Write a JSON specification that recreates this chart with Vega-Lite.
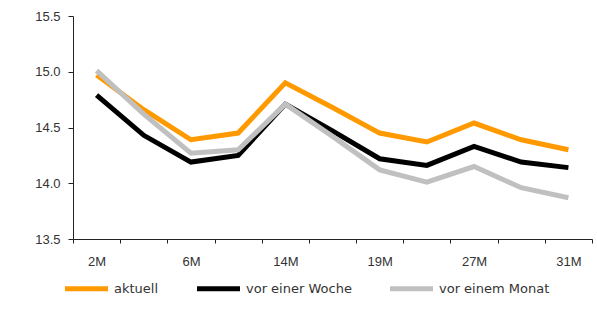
{
  "$schema": "https://vega.github.io/schema/vega-lite/v6.json",
  "width": 519,
  "height": 223,
  "autosize": {"type": "none"},
  "padding": {"left": 73, "top": 16, "right": 5, "bottom": 70},
  "config": {
    "font": "Liberation Sans",
    "view": {"stroke": null},
    "axis": {"labelFont": "Liberation Sans", "labelFontSize": 13, "labelColor": "#333333", "domainColor": "#222222", "tickColor": "#222222", "grid": false, "title": null}
  },
  "data": {
    "values": [
      {"tenor": "2M", "series": "aktuell", "value": 14.97},
      {"tenor": "4M", "series": "aktuell", "value": 14.66},
      {"tenor": "6M", "series": "aktuell", "value": 14.39},
      {"tenor": "10M", "series": "aktuell", "value": 14.45},
      {"tenor": "14M", "series": "aktuell", "value": 14.90},
      {"tenor": "16M", "series": "aktuell", "value": 14.68},
      {"tenor": "19M", "series": "aktuell", "value": 14.45},
      {"tenor": "23M", "series": "aktuell", "value": 14.37},
      {"tenor": "27M", "series": "aktuell", "value": 14.54},
      {"tenor": "29M", "series": "aktuell", "value": 14.39},
      {"tenor": "31M", "series": "aktuell", "value": 14.30},
      {"tenor": "2M", "series": "vor einer Woche", "value": 14.79},
      {"tenor": "4M", "series": "vor einer Woche", "value": 14.43},
      {"tenor": "6M", "series": "vor einer Woche", "value": 14.19},
      {"tenor": "10M", "series": "vor einer Woche", "value": 14.25},
      {"tenor": "14M", "series": "vor einer Woche", "value": 14.71},
      {"tenor": "16M", "series": "vor einer Woche", "value": 14.47},
      {"tenor": "19M", "series": "vor einer Woche", "value": 14.22},
      {"tenor": "23M", "series": "vor einer Woche", "value": 14.16},
      {"tenor": "27M", "series": "vor einer Woche", "value": 14.33},
      {"tenor": "29M", "series": "vor einer Woche", "value": 14.19},
      {"tenor": "31M", "series": "vor einer Woche", "value": 14.14},
      {"tenor": "2M", "series": "vor einem Monat", "value": 15.01},
      {"tenor": "4M", "series": "vor einem Monat", "value": 14.62},
      {"tenor": "6M", "series": "vor einem Monat", "value": 14.27},
      {"tenor": "10M", "series": "vor einem Monat", "value": 14.30},
      {"tenor": "14M", "series": "vor einem Monat", "value": 14.71},
      {"tenor": "16M", "series": "vor einem Monat", "value": 14.42},
      {"tenor": "19M", "series": "vor einem Monat", "value": 14.12},
      {"tenor": "23M", "series": "vor einem Monat", "value": 14.01},
      {"tenor": "27M", "series": "vor einem Monat", "value": 14.15},
      {"tenor": "29M", "series": "vor einem Monat", "value": 13.96},
      {"tenor": "31M", "series": "vor einem Monat", "value": 13.87}
    ]
  },
  "mark": {"type": "line", "strokeWidth": 5, "strokeJoin": "miter", "strokeCap": "butt"},
  "encoding": {
    "x": {
      "field": "tenor",
      "type": "nominal",
      "sort": null,
      "scale": {"paddingInner": 0, "paddingOuter": 0},
      "axis": {
        "labelAngle": 0,
        "tickBand": "extent",
        "tickSize": 4,
        "labelPadding": 12,
        "labelExpr": "indexof(['2M','6M','14M','19M','27M','31M'], datum.value) >= 0 ? datum.value : ''"
      }
    },
    "y": {
      "field": "value",
      "type": "quantitative",
      "scale": {"domain": [13.5, 15.5], "zero": false},
      "axis": {"values": [13.5, 14, 14.5, 15, 15.5], "format": ".1f", "tickSize": 5, "labelPadding": 8}
    },
    "color": {
      "field": "series",
      "type": "nominal",
      "scale": {"domain": ["aktuell", "vor einer Woche", "vor einem Monat"], "range": ["#FF9900", "#000000", "#C0C0C0"]},
      "legend": {
        "title": null,
        "orient": "none",
        "direction": "horizontal",
        "columns": 3,
        "legendX": -11,
        "legendY": 248,
        "padding": 0,
        "symbolType": "stroke",
        "symbolSize": 1850,
        "symbolStrokeWidth": 5,
        "labelFont": "DejaVu Sans",
        "labelFontSize": 13,
        "labelColor": "#333333",
        "labelOffset": 3,
        "columnPadding": 27
      }
    },
    "order": {"field": "series", "sort": "ascending"}
  }
}
